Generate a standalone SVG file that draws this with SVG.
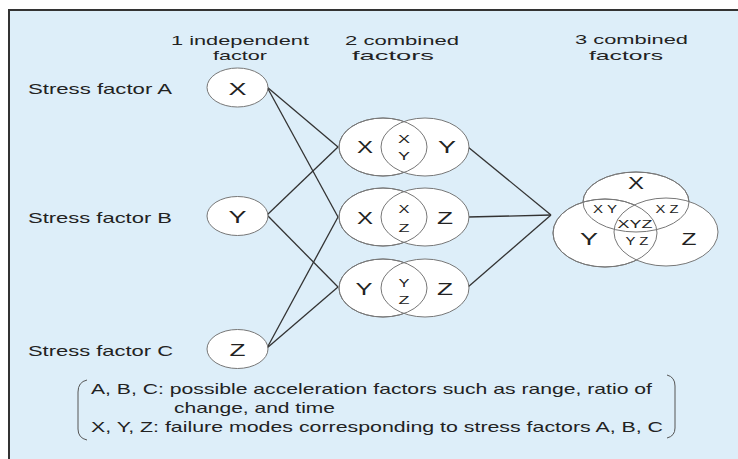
<svg xmlns="http://www.w3.org/2000/svg" width="738" height="459" viewBox="0 0 738 459">
<style>
text{font-family:"Liberation Sans",Arial,sans-serif;fill:#222;}
.h{font-size:15px;}
.hd{font-size:13.5px;}
.big{font-size:17px;text-anchor:middle;}
.sm{font-size:11px;text-anchor:middle;}
.node{fill:#fff;stroke:#777;stroke-width:1;}
.ol{fill:none;stroke:#777;stroke-width:1;}
.conn line{stroke:#333;stroke-width:1.3;}
</style>
<rect x="0" y="0" width="738" height="459" fill="#fff"/>
<rect x="9" y="10" width="740" height="460" fill="#ddeef9" stroke="#333" stroke-width="2"/>

<!-- headers -->
<g id="headers" class="hd">
<text x="171" y="44.5" textLength="138" lengthAdjust="spacingAndGlyphs">1 independent</text>
<text x="213" y="59.5" textLength="54" lengthAdjust="spacingAndGlyphs">factor</text>
<text x="345" y="44.5" textLength="114" lengthAdjust="spacingAndGlyphs">2 combined</text>
<text x="352" y="59.5" textLength="82" lengthAdjust="spacingAndGlyphs">factors</text>
<text x="575" y="44" textLength="113" lengthAdjust="spacingAndGlyphs">3 combined</text>
<text x="589" y="59.5" textLength="74" lengthAdjust="spacingAndGlyphs">factors</text>
</g>

<!-- stress factor labels -->
<g id="labels" class="h">
<text x="28" y="94" textLength="144" lengthAdjust="spacingAndGlyphs">Stress factor A</text>
<text x="28" y="223" textLength="144" lengthAdjust="spacingAndGlyphs">Stress factor B</text>
<text x="28" y="356" textLength="145" lengthAdjust="spacingAndGlyphs">Stress factor C</text>
</g>

<!-- connectors -->
<g id="connectors" class="conn">
<line x1="267" y1="87" x2="338" y2="147"/>
<line x1="267" y1="87" x2="338" y2="217"/>
<line x1="267" y1="215" x2="338" y2="147"/>
<line x1="267" y1="215" x2="338" y2="287"/>
<line x1="267" y1="348" x2="338" y2="217"/>
<line x1="267" y1="348" x2="338" y2="287"/>
<line x1="468" y1="147" x2="551" y2="215"/>
<line x1="468" y1="217" x2="551" y2="215"/>
<line x1="468" y1="287" x2="551" y2="215"/>
</g>

<!-- single factor nodes -->
<g id="nodeX">
<ellipse class="node" cx="237.5" cy="87.5" rx="30.5" ry="19.5"/>
<text class="big" x="237.5" y="94.5" textLength="18" lengthAdjust="spacingAndGlyphs">X</text>
</g>
<g id="nodeY">
<ellipse class="node" cx="237.5" cy="216" rx="30.5" ry="19.5"/>
<text class="big" x="237.5" y="223" textLength="18" lengthAdjust="spacingAndGlyphs">Y</text>
</g>
<g id="nodeZ">
<ellipse class="node" cx="237.5" cy="349" rx="30.5" ry="19.5"/>
<text class="big" x="237.5" y="356" textLength="16" lengthAdjust="spacingAndGlyphs">Z</text>
</g>

<!-- two-factor venns -->
<g id="vennXY">
<ellipse class="node" cx="383" cy="147" rx="44" ry="29"/>
<ellipse class="node" cx="425" cy="147" rx="44" ry="29"/>
<ellipse class="ol" cx="383" cy="147" rx="44" ry="29"/>
<text class="big" x="365" y="153" textLength="16" lengthAdjust="spacingAndGlyphs">X</text>
<text class="big" x="447" y="153" textLength="18" lengthAdjust="spacingAndGlyphs">Y</text>
<text class="sm" x="404" y="143" textLength="12" lengthAdjust="spacingAndGlyphs">X</text>
<text class="sm" x="404" y="160" textLength="12" lengthAdjust="spacingAndGlyphs">Y</text>
</g>
<g id="vennXZ">
<ellipse class="node" cx="383" cy="217" rx="44" ry="29"/>
<ellipse class="node" cx="425" cy="217" rx="44" ry="29"/>
<ellipse class="ol" cx="383" cy="217" rx="44" ry="29"/>
<text class="big" x="365" y="224" textLength="16" lengthAdjust="spacingAndGlyphs">X</text>
<text class="big" x="445" y="224" textLength="16" lengthAdjust="spacingAndGlyphs">Z</text>
<text class="sm" x="404" y="213" textLength="11" lengthAdjust="spacingAndGlyphs">X</text>
<text class="sm" x="404" y="232" textLength="11" lengthAdjust="spacingAndGlyphs">Z</text>
</g>
<g id="vennYZ">
<ellipse class="node" cx="383" cy="288" rx="44" ry="29"/>
<ellipse class="node" cx="425" cy="288" rx="44" ry="29"/>
<ellipse class="ol" cx="383" cy="288" rx="44" ry="29"/>
<text class="big" x="364" y="295" textLength="17" lengthAdjust="spacingAndGlyphs">Y</text>
<text class="big" x="445" y="295" textLength="16" lengthAdjust="spacingAndGlyphs">Z</text>
<text class="sm" x="404" y="287" textLength="11" lengthAdjust="spacingAndGlyphs">Y</text>
<text class="sm" x="404" y="304" textLength="11" lengthAdjust="spacingAndGlyphs">Z</text>
</g>

<!-- three-factor venn -->
<g id="vennXYZ">
<ellipse class="node" cx="636" cy="202" rx="53" ry="30"/>
<ellipse class="node" cx="605" cy="233" rx="52" ry="34"/>
<ellipse class="node" cx="666" cy="232" rx="52" ry="34"/>
<ellipse class="ol" cx="636" cy="202" rx="53" ry="30"/>
<ellipse class="ol" cx="605" cy="233" rx="52" ry="34"/>
<text class="big" x="636" y="189" textLength="16" lengthAdjust="spacingAndGlyphs">X</text>
<text class="big" x="589" y="245" textLength="18" lengthAdjust="spacingAndGlyphs">Y</text>
<text class="big" x="689" y="245" textLength="15" lengthAdjust="spacingAndGlyphs">Z</text>
<text class="sm" x="605" y="213" textLength="24" lengthAdjust="spacingAndGlyphs">X Y</text>
<text class="sm" x="667" y="213" textLength="23" lengthAdjust="spacingAndGlyphs">X Z</text>
<text class="sm" x="635" y="228" textLength="35" lengthAdjust="spacingAndGlyphs">XYZ</text>
<text class="sm" x="637" y="245" textLength="23" lengthAdjust="spacingAndGlyphs">Y Z</text>
</g>

<!-- legend -->
<g id="legend">
<path d="M87,380 Q78,382 78,392 L78,429 Q78,438 87,440" fill="none" stroke="#555" stroke-width="1"/>
<path d="M667,375 Q675,377 675,386 L675,428 Q675,436 667,438" fill="none" stroke="#555" stroke-width="1"/>
<text class="h" x="91" y="394" textLength="561" lengthAdjust="spacingAndGlyphs">A, B, C: possible acceleration factors such as range, ratio of</text>
<text class="h" x="174" y="413" textLength="161" lengthAdjust="spacingAndGlyphs">change, and time</text>
<text class="h" x="91" y="432" textLength="572" lengthAdjust="spacingAndGlyphs">X, Y, Z: failure modes corresponding to stress factors A, B, C</text>
</g>
</svg>
